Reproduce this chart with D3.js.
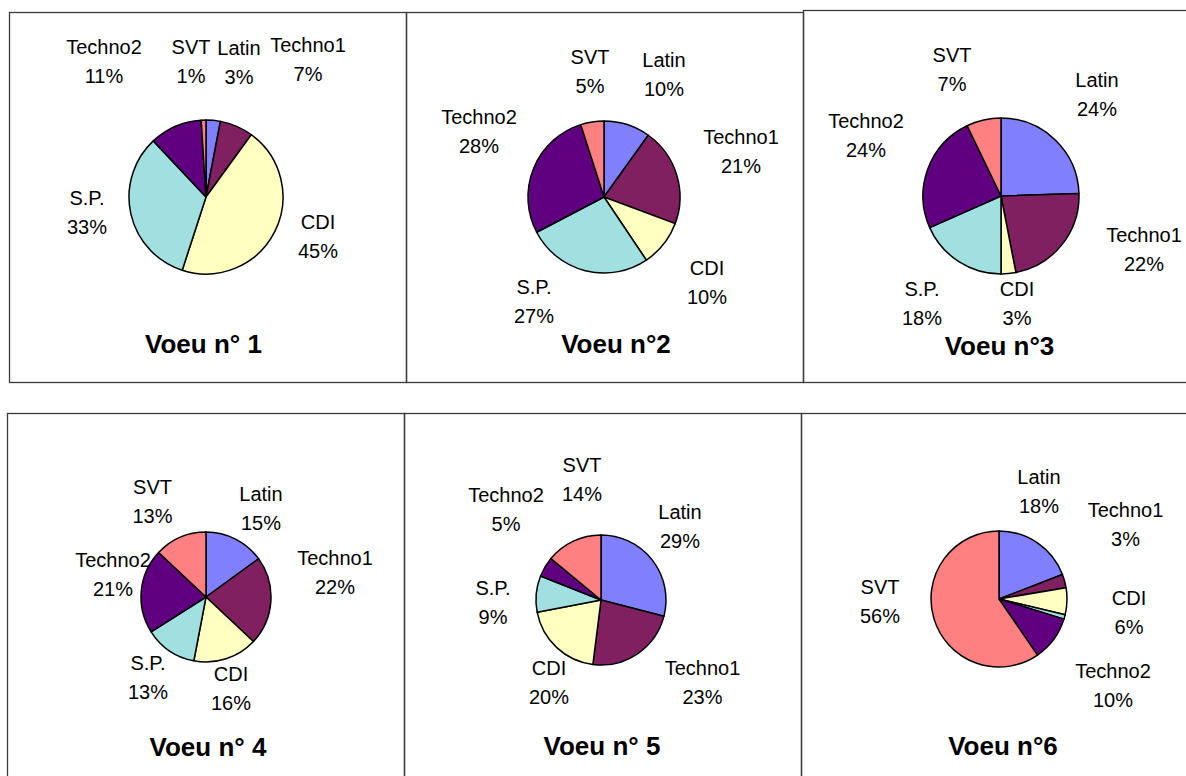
<!DOCTYPE html>
<html>
<head>
<meta charset="utf-8">
<script src="https://cdn.jsdelivr.net/npm/d3@7/dist/d3.min.js"></script>
<style>
  body { margin: 0; background: #fff; }
  text { font-family: "Liberation Sans", Arial, sans-serif; fill: #000; }
</style>
</head>
<body>
<svg id="chart" width="1186" height="776"></svg>
<script>
// --- data ---
var categories = ['Latin', 'Techno1', 'CDI', 'S.P.', 'Techno2', 'SVT'];
var voeu1 = [3, 7, 45, 33, 11, 1];
var voeu2 = [10, 21, 10, 27, 28, 5];
var voeu3 = [24, 22, 3, 18, 24, 7];
var voeu4 = [15, 22, 16, 13, 21, 13];
var voeu5 = [29, 23, 20, 9, 5, 14];
var voeu6 = [18, 3, 6, 1, 10, 56];
var titles = ['Voeu n° 1', 'Voeu n°2', 'Voeu n°3', 'Voeu n° 4', 'Voeu n° 5', 'Voeu n°6'];
var series = [voeu1, voeu2, voeu3, voeu4, voeu5, voeu6];
// label not shown on the chart (slice is drawn)
var hiddenLabels = [[], [], [], [], [], ['S.P.']];

// --- styles / layout ---
var colors = d3.scaleOrdinal()
    .domain(categories)
    .range(['#8080ff', '#802060', '#ffffc0', '#a0e0e0', '#600080', '#ff8080']);

// panel frames, pie centre/radius, title x, label offsets from the pie centre (first baseline)
var panels = [
    {x0: 9, y0: 12, x1: 406, y1: 382, cx: 206, cy: 197, r: 77, tx: 203.5, ty: 353,
     lab: [[33, -142], [102, -145], [112, 32], [-119, 8], [-102, -143], [-15, -143]]},
    {x0: 406, y0: 12, x1: 803, y1: 382, cx: 604, cy: 197, r: 76, tx: 616, ty: 353,
     lab: [[60, -130], [137, -53], [103, 78], [-70, 97], [-125, -73], [-14, -133]]},
    {x0: 803, y0: 10, x1: 1200, y1: 382, cx: 1001, cy: 196, r: 78, tx: 999.5, ty: 355,
     lab: [[96, -109], [143, 46], [16, 100], [-79, 100], [-135, -68], [-49, -134]]},
    {x0: 7, y0: 413, x1: 404, y1: 790, cx: 206, cy: 597, r: 65, tx: 208, ty: 756,
     lab: [[55, -96], [129, -32], [25, 84], [-58, 73], [-93, -30], [-53.5, -103]]},
    {x0: 404, y0: 413, x1: 801, y1: 790, cx: 601, cy: 600, r: 65, tx: 602, ty: 755,
     lab: [[79, -81], [101.5, 75], [-52, 75], [-108, -5], [-95, -98], [-19, -128]]},
    {x0: 801, y0: 413, x1: 1200, y1: 790, cx: 999, cy: 599, r: 68, tx: 1003, ty: 755,
     lab: [[40, -115], [126.5, -82], [130, 6], [0, 0], [114, 79], [-119, -5]]}
];

var svg = d3.select('#chart');

var pie = d3.pie()
    .sort(null)
    .value(function(d) { return d.value; });

series.forEach(function(vals, i) {
    var p = panels[i];
    var g = svg.append('g').attr('class', 'panel');

    g.append('rect')
        .attr('x', p.x0 + 0.5)
        .attr('y', p.y0 + 0.5)
        .attr('width', p.x1 - p.x0)
        .attr('height', p.y1 - p.y0)
        .attr('fill', 'none')
        .attr('stroke', '#3a3a3a')
        .attr('stroke-width', 1.3);

    var rows = categories.map(function(c, k) { return {cat: c, value: vals[k], idx: k}; });
    var arcs = pie(rows);
    var arc = d3.arc().innerRadius(0).outerRadius(p.r);

    var pg = g.append('g')
        .attr('transform', 'translate(' + p.cx + ',' + p.cy + ')');

    pg.selectAll('path')
        .data(arcs)
        .enter().append('path')
        .attr('d', arc)
        .attr('fill', function(d) { return colors(d.data.cat); })
        .attr('stroke', '#000')
        .attr('stroke-width', 1.5)
        .attr('stroke-linejoin', 'round');

    var lbl = pg.selectAll('text.lbl')
        .data(arcs.filter(function(d) { return hiddenLabels[i].indexOf(d.data.cat) < 0; }))
        .enter().append('text')
        .attr('class', 'lbl')
        .attr('text-anchor', 'middle')
        .style('font-size', '20px');

    lbl.append('tspan')
        .attr('x', function(d) { return p.lab[d.data.idx][0]; })
        .attr('y', function(d) { return p.lab[d.data.idx][1]; })
        .text(function(d) { return d.data.cat; });
    lbl.append('tspan')
        .attr('x', function(d) { return p.lab[d.data.idx][0]; })
        .attr('y', function(d) { return p.lab[d.data.idx][1] + 29; })
        .text(function(d) { return d.data.value + '%'; });

    g.append('text')
        .attr('x', p.tx)
        .attr('y', p.ty)
        .attr('text-anchor', 'middle')
        .style('font-size', '26px')
        .style('font-weight', 'bold')
        .text(titles[i]);
});
</script>
</body>
</html>
